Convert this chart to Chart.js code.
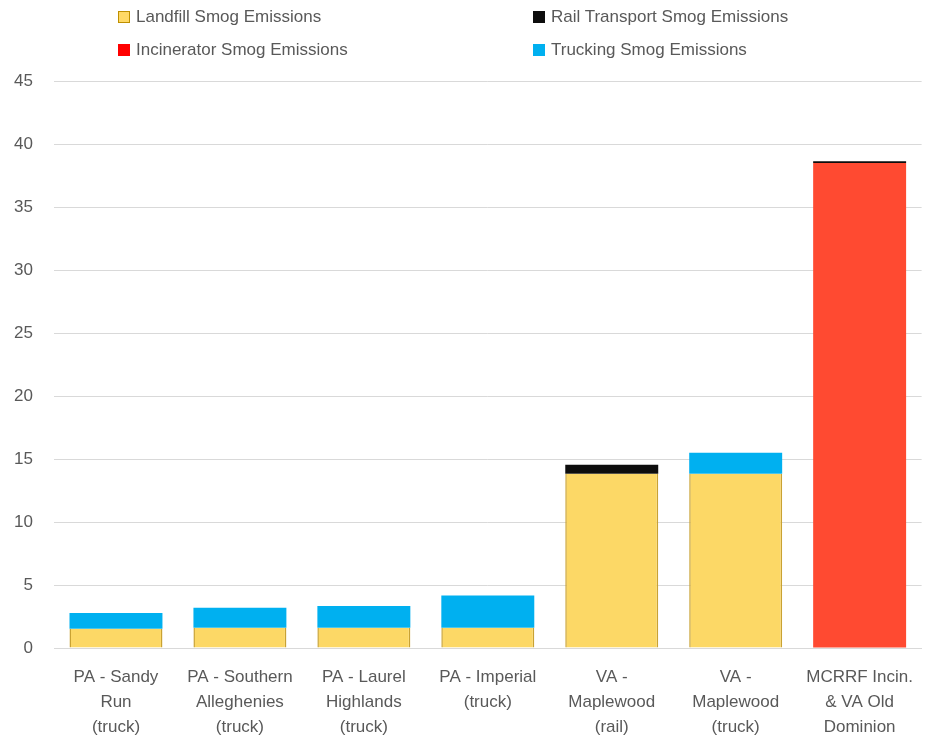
<!DOCTYPE html>
<html>
<head>
<meta charset="utf-8">
<script src="https://cdn.jsdelivr.net/npm/chart.js@4.4.1/dist/chart.umd.min.js"></script>
<style>
  html, body { margin: 0; padding: 0; background: #fff; overflow: hidden; }
  #wrap { position: relative; width: 927px; height: 757px; overflow: hidden; }
  #legend { position: absolute; left: 0; top: 0; width: 927px; height: 70px; font-family: "Liberation Sans", Arial, sans-serif; font-size: 17px; color: #595959; }
  .li { position: absolute; display: flex; align-items: center; white-space: nowrap; }
  .box { width: 12px; height: 12px; box-sizing: border-box; margin-right: 6px; }
</style>
</head>
<body>
<div id="wrap">
  <canvas id="c" width="930" height="757"></canvas>
  <div id="legend"></div>
</div>
<script>
const categories = [
  ["PA - Sandy", "Run", "(truck)"],
  ["PA - Southern", "Alleghenies", "(truck)"],
  ["PA - Laurel", "Highlands", "(truck)"],
  ["PA - Imperial", "(truck)"],
  ["VA -", "Maplewood", "(rail)"],
  ["VA -", "Maplewood", "(truck)"],
  ["MCRRF Incin.", "& VA Old", "Dominion"]
];
const landfill    = [1.53, 1.60, 1.60, 1.60, 13.83, 13.83, null];
const incinerator = [null, null, null, null, null, null, 38.50];
const rail        = [null, null, null, null, 0.72, null, 0.13];
const trucking    = [1.25, 1.60, 1.74, 2.56, null, 1.67, null];
const seriesNames = ["Landfill Smog Emissions", "Incinerator Smog Emissions", "Rail Transport Smog Emissions", "Trucking Smog Emissions"];
const yTicks = [0, 5, 10, 15, 20, 25, 30, 35, 40, 45];

// HTML legend (2x2 grid like the reference)
const legendItems = [
  { name: seriesNames[0], fill: "#FFD966", border: "#BF9000", x: 118, y: 17 },
  { name: seriesNames[2], fill: "#0D0D0D", border: "#0D0D0D", x: 533, y: 17 },
  { name: seriesNames[1], fill: "#FF0000", border: "#FF0000", x: 118, y: 50 },
  { name: seriesNames[3], fill: "#00B0F0", border: "#00B0F0", x: 533, y: 50 }
];
const lg = document.getElementById("legend");
legendItems.forEach(it => {
  const d = document.createElement("div");
  d.className = "li";
  d.style.left = it.x + "px";
  d.style.top = (it.y - 11) + "px";
  d.style.height = "22px";
  const b = document.createElement("span");
  b.className = "box";
  b.style.background = it.fill;
  b.style.border = "1px solid " + it.border;
  const t = document.createElement("span");
  t.textContent = it.name;
  d.appendChild(b); d.appendChild(t);
  lg.appendChild(d);
});

const font = { family: "'Liberation Sans', Arial, sans-serif", size: 17, lineHeight: 1.47 };
new Chart(document.getElementById("c"), {
  type: "bar",
  data: {
    labels: categories,
    datasets: [
      { label: seriesNames[0], data: landfill, backgroundColor: "#FCD866", borderColor: "#C9A233", borderWidth: { left: 1.5, right: 1.5, top: 0, bottom: 0 }, stack: "s" },
      { label: seriesNames[1], data: incinerator, backgroundColor: "#FF4A31", borderWidth: 0, stack: "s" },
      { label: seriesNames[2], data: rail, backgroundColor: "#0D0D0D", borderWidth: 0, stack: "s" },
      { label: seriesNames[3], data: trucking, backgroundColor: "#00B0F0", borderWidth: 0, stack: "s" }
    ]
  },
  options: {
    responsive: false,
    animation: false,
    layout: { padding: { top: 81, right: 0, left: 0, bottom: 0 } },
    datasets: { bar: { barPercentage: 0.75, categoryPercentage: 1.0 } },
    plugins: { legend: { display: false }, tooltip: { enabled: false } },
    scales: {
      x: {
        stacked: true,
        grid: { display: false, drawTicks: false },
        border: { display: true, color: "#D9D9D9", width: 1 },
        ticks: { color: "#595959", font: font, padding: 17, maxRotation: 0, autoSkip: false }
      },
      y: {
        stacked: true,
        min: 0, max: 45,
        afterFit: s => { s.width = 54; },
        afterBuildTicks: s => { s.ticks = yTicks.map(v => ({ value: v })); },
        grid: { color: "#D9D9D9", lineWidth: 1, drawTicks: false },
        border: { display: false },
        ticks: { color: "#595959", font: { family: font.family, size: 17 }, padding: 21 }
      }
    }
  }
});
</script>
</body>
</html>
